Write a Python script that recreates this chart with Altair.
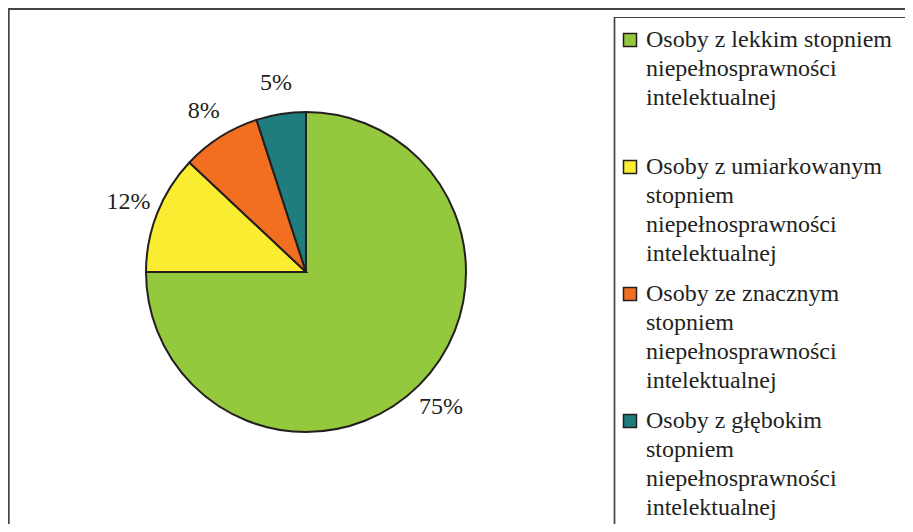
import altair as alt
import pandas as pd

categories = [
    "Osoby z lekkim stopniem niepełnosprawności intelektualnej",
    "Osoby z umiarkowanym stopniem niepełnosprawności intelektualnej",
    "Osoby ze znacznym stopniem niepełnosprawności intelektualnej",
    "Osoby z głębokim stopniem niepełnosprawności intelektualnej",
]
legend_lines = [
    "Osoby z lekkim stopniem\nniepełnosprawności\nintelektualnej",
    "Osoby z umiarkowanym\nstopniem\nniepełnosprawności\nintelektualnej",
    "Osoby ze znacznym\nstopniem\nniepełnosprawności\nintelektualnej",
    "Osoby z głębokim\nstopniem\nniepełnosprawności\nintelektualnej",
]
values = [75, 12, 8, 5]
labels = ["75%", "12%", "8%", "5%"]
colors = ["#94c83d", "#f9ec31", "#f26f22", "#1f7d7d"]

df = pd.DataFrame({
    "cat": categories,
    "leg": legend_lines,
    "value": values,
    "label": labels,
    "i": list(range(len(categories))),
})

W, H = 897, 516
FONT = "Liberation Serif"
INK = "#231f20"

color = alt.Color("cat:N", scale=alt.Scale(domain=categories, range=colors), legend=None)

pie = alt.Chart(df).mark_arc(outerRadius=160, stroke=INK, strokeWidth=2).encode(
    theta=alt.Theta("value:Q", stack=True),
    color=color,
    order=alt.Order("i:Q"),
    x=alt.value(298), y=alt.value(264),
)

pct = alt.Chart(df).mark_text(radius=191, font=FONT, fontSize=24, fill=INK).encode(
    theta=alt.Theta("value:Q", stack=True),
    order=alt.Order("i:Q"),
    text="label:N",
    x=alt.value(298), y=alt.value(264),
)

frame = alt.Chart(df).mark_rect(fill=None, stroke="#444444", strokeWidth=1.5).encode(
    x=alt.value(0.5), y=alt.value(1), x2=alt.value(2000), y2=alt.value(2000)
)
legbox = alt.Chart(df).mark_rect(fill=None, stroke="#444444", strokeWidth=1.2).encode(
    x=alt.value(606.5), y=alt.value(9.5), x2=alt.value(2000), y2=alt.value(519)
)

yscale = alt.Scale(domain=[-0.252, 3.811], reverse=True)

squares = alt.Chart(df).mark_square(size=169, stroke=INK, strokeWidth=1.5, opacity=1).encode(
    x=alt.value(622),
    y=alt.Y("i:Q", scale=yscale, axis=None),
    color=color,
)

legtext = alt.Chart(df).mark_text(align="left", baseline="middle", font=FONT, fontSize=24,
                                  fill=INK, lineBreak="\n", lineHeight=29).encode(
    x=alt.value(638),
    y=alt.Y("i:Q", scale=yscale, axis=None),
    text="leg:N",
)

chart = alt.layer(frame, legbox, pie, pct, squares, legtext).properties(
    width=W, height=H,
    autosize=alt.AutoSizeParams(type="none"),
    padding=0,
).configure_view(stroke=None).configure_text(font=FONT).configure(font=FONT)

chart.save("out.html", embed_options={"renderer": "svg", "actions": False})
